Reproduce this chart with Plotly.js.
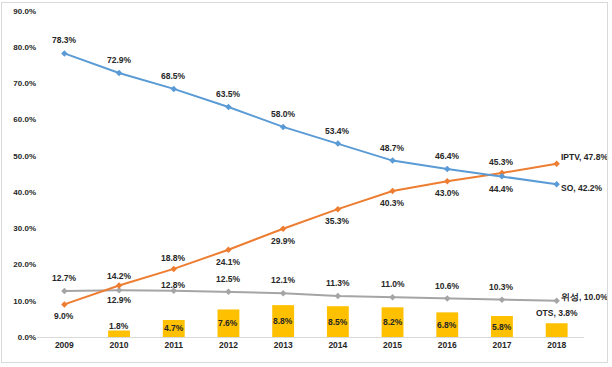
<!DOCTYPE html>
<html><head><meta charset="utf-8">
<script src="https://cdn.plot.ly/plotly-3.0.1.min.js"></script>
<style>
body{margin:0;padding:0;background:#fff;}
#wrap{position:relative;width:612px;height:367px;overflow:hidden;}
#chart{position:absolute;left:0;top:0;width:612px;height:367px;}
#frame{position:absolute;left:1px;top:2px;width:605px;height:359px;border:1px solid #d9d9d9;pointer-events:none;}
</style></head>
<body>
<div id="wrap"><div id="chart"></div><div id="frame"></div></div>
<script>
const years = ['2009','2010','2011','2012','2013','2014','2015','2016','2017','2018'];
const so    = [78.3, 72.9, 68.5, 63.5, 58.0, 53.4, 48.7, 46.4, 44.4, 42.2];
const iptv  = [9.0, 14.2, 18.8, 24.1, 29.9, 35.3, 40.3, 43.0, 45.3, 47.8];
const sat   = [12.7, 12.9, 12.8, 12.5, 12.1, 11.3, 11.0, 10.6, 10.3, 10.0];
const ots   = [null, 1.8, 4.7, 7.6, 8.8, 8.5, 8.2, 6.8, 5.8, 3.8];
const seriesNames = {so:'SO', iptv:'IPTV', sat:'위성', ots:'OTS'};
const yTicks = [0,10,20,30,40,50,60,70,80,90];

// label placement (style only): vertical shift in px per point
const soShift   = [13, 13, 13, 13, 13, 13, 13, 13, -13, 0];
const iptvShift = [-12, 10, 11, -12, -12, -12, -12, -12, 11, 0];
const satShift  = [13, -10, 6, 13, 13, 13, 13, 13, 13, 0];

const fontFam = 'Liberation Sans, Arial, sans-serif';
const lblFont = {family: fontFam, size: 8.5, color: '#262626', weight: 'bold'};

const colors = {so:'#5B9BD5', iptv:'#ED7D31', sat:'#A5A5A5', ots:'#FFC000'};

function lineTrace(vals, color, name){
  return {type:'scatter', mode:'lines+markers', x: years, y: vals, name: name,
    line:{color: color, width: 2}, marker:{color: color, size: 5, symbol:'diamond'},
    cliponaxis:false, hoverinfo:'skip'};
}

const traces = [
  {type:'bar', x: years, y: ots, name: seriesNames.ots, marker:{color: colors.ots}, width: 0.4, hoverinfo:'skip'},
  lineTrace(sat, colors.sat, seriesNames.sat),
  lineTrace(iptv, colors.iptv, seriesNames.iptv),
  lineTrace(so, colors.so, seriesNames.so)
];

const fmt = v => v.toFixed(1) + '%';
const ann = [];
function addLabels(vals, shifts, name){
  vals.forEach((v, i) => {
    if (v === null) return;
    if (i === vals.length - 1) {
      ann.push({x: i, y: v, text: name + ', ' + fmt(v), showarrow:false,
        xanchor:'left', xshift: 2, yshift: name === 'IPTV' ? 7 : (name === 'SO' ? -4 : 4),
        font: lblFont});
    } else {
      ann.push({x: i, y: v, text: fmt(v), showarrow:false, yshift: shifts[i], font: lblFont});
    }
  });
}
addLabels(so, soShift, seriesNames.so);
addLabels(iptv, iptvShift, seriesNames.iptv);
addLabels(sat, satShift, seriesNames.sat);
// bar labels
ots.forEach((v, i) => {
  if (v === null) return;
  if (i === ots.length - 1) {
    ann.push({x: i, y: v, text: seriesNames.ots + ', ' + fmt(v), showarrow:false, yshift: 10, font: lblFont});
  } else if (v < 3) {
    ann.push({x: i, y: v, text: fmt(v), showarrow:false, yshift: 4, font: lblFont});
  } else {
    ann.push({x: i, y: v / 2, text: fmt(v), showarrow:false, font: lblFont});
  }
});

const layout = {
  width: 612, height: 367,
  margin: {l: 37, r: 28, t: 11, b: 30},
  paper_bgcolor: '#fff', plot_bgcolor: '#fff',
  showlegend: false,
  font: {family: fontFam, size: 9, color: '#262626'},
  xaxis: {type:'category', range:[-0.5, 9.5], showgrid:false, zeroline:false,
    showline:true, linecolor:'#d9d9d9', linewidth:1, ticks:'',
    tickfont:{family: fontFam, size: 8.5, color:'#262626', weight:'bold'}, fixedrange:true},
  yaxis: {range:[0, 90], tickvals: yTicks, ticktext: yTicks.map(v => v.toFixed(1) + '%'),
    showgrid:false, zeroline:false, showline:false, ticks:'',
    tickfont:{family: fontFam, size: 8, color:'#262626', weight:'bold'}, fixedrange:true},
  annotations: ann,
  bargap: 0.6
};

Plotly.newPlot('chart', traces, layout, {staticPlot:true, displayModeBar:false});
</script>
</body></html>
